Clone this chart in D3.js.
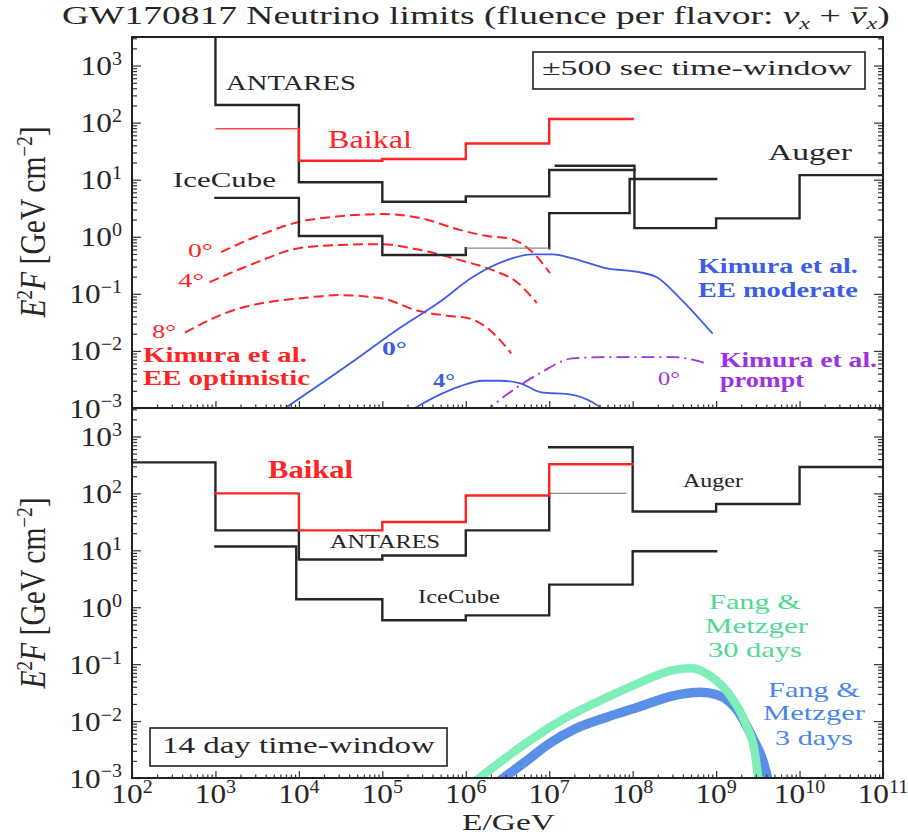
<!DOCTYPE html>
<html>
<head>
<meta charset="utf-8">
<script src="https://cdn.jsdelivr.net/npm/d3@7"></script>
<style>
  html, body { margin: 0; padding: 0; background: #fff; }
  svg { display: block; }
</style>
</head>
<body>
<svg id="chart" width="908" height="838"></svg>
<script>
// ---------------- data ----------------
// axis decades (exponents of 10)
const xTickExponents = [2, 3, 4, 5, 6, 7, 8, 9, 10, 11];
const yTickExponents = [-3, -2, -1, 0, 1, 2, 3];

// Upper panel: ±500 s window, step limits. Edges in GeV, E²F in GeV cm⁻²
const antaresShortEdges  = [1e2, 1e3, 1e4, 1e5, 1e6, 1e7, 1.05e8];
const antaresShortLimits = [4000, 204, 9.0, 4.1, 5.1, 14.8];
const icecubeShortEdges  = [1e3, 1e4, 1e5, 1e6, 1e7, 9.2e7, 1e9];
const icecubeShortLimits = [4.8, 1.03, 0.48, 0.63, 2.6, 10.3];
const augerShortEdges    = [1.2e7, 1.05e8, 1e9, 1e10, 1e11];
const augerShortLimits   = [17.6, 1.42, 2.1, 12];
const baikalShortEdges   = [1e3, 1e4, 1e5, 1e6, 1e7, 1e8];
const baikalShortLimits  = [78, 21.5, 23, 43, 116];

// Lower panel: 14 day window
const antaresLongEdges  = [1e2, 1e3, 1e4, 1e5, 1e6, 1e7, 8.4e7];
const antaresLongLimits = [350, 22.4, 6.9, 8.1, 22.4, 100];
const icecubeLongEdges  = [1e3, 9.3e3, 1e5, 1e6, 1e7, 1e8, 1e9];
const icecubeLongLimits = [11.7, 1.38, 0.59, 0.72, 2.5, 9.6];
const augerLongEdges    = [1e7, 1e8, 1e9, 1e10, 1e11];
const augerLongLimits   = [645, 48, 65, 290];
const baikalLongEdges   = [1e3, 1e4, 1e5, 1e6, 1e7, 1e8];
const baikalLongLimits  = [100, 22.4, 31.5, 92, 325];

// Kimura et al. extended emission, optimistic (E [GeV], E²F)
const kimuraOpt0 = [[1.17e3,0.54],[3.4e3,1.07],[1e4,1.82],[3.1e4,2.29],[1e5,2.5],[2.8e5,2.14],
  [8.5e5,1.32],[1.9e6,1.02],[3.1e6,0.95],[4.5e6,0.78],[6.8e6,0.48],[1.02e7,0.23]];
const kimuraOpt4 = [[850,0.16],[2.6e3,0.32],[1e4,0.63],[3.1e4,0.72],[9.3e4,0.74],[2.8e5,0.59],
  [8.5e5,0.39],[2.1e6,0.26],[4.1e6,0.16],[7.1e6,0.069]];
const kimuraOpt8 = [[430,0.021],[1.6e3,0.051],[4.1e3,0.071],[1e4,0.083],[3.1e4,0.095],[1e5,0.083],
  [2.6e5,0.051],[6.3e5,0.041],[1.1e6,0.037],[1.95e6,0.023],[3.5e6,0.0091]];
// Kimura et al. extended emission, moderate
const kimuraMod0 = [[5.5e3,0.0008],[4.1e4,0.006],[1.6e5,0.025],[4.8e5,0.071],[1.2e6,0.195],[3.1e6,0.39],
  [6.3e6,0.49],[1.1e7,0.49],[1.9e7,0.42],[4.9e7,0.28],[1.2e8,0.24],[1.95e8,0.195],[3.6e8,0.087],[9.1e8,0.020]];
const kimuraMod4 = [[1.9e5,0.0008],[4.8e5,0.0017],[8.5e5,0.0024],[1.6e6,0.0030],[2.6e6,0.0030],[4.5e6,0.0027],
  [7.8e6,0.0019],[1.9e7,0.0017],[3.3e7,0.00126],[5.2e7,0.0008]];
// Kimura et al. prompt emission
const kimuraPrompt0 = [[1.6e6,0.0008],[4.1e6,0.0023],[7.8e6,0.0041],[1.9e7,0.0074],[4.9e7,0.0078],
  [3.0e8,0.0078],[7.8e8,0.006]];

// Fang & Metzger
const fang30d = [[1.2e6,0.0008],[3.3e6,0.0025],[7.6e6,0.0059],[2.0e7,0.0138],[4.9e7,0.026],[1.2e8,0.047],
  [2.95e8,0.078],[5.1e8,0.085],[8.9e8,0.059],[1.45e9,0.029],[2.3e9,0.0085],[2.9e9,0.0029],[3.25e9,0.0008]];
const fang3d = [[2.3e6,0.0008],[5.1e6,0.0019],[1.02e7,0.0041],[2.0e7,0.0072],[4.9e7,0.0117],[1.2e8,0.0178],
  [2.95e8,0.0275],[6.5e8,0.032],[1.02e9,0.029],[1.9e9,0.0138],[2.75e9,0.005],[3.6e9,0.0021],[4.3e9,0.0008]];

// ---------------- layout ----------------
const serif = "'Liberation Serif','Times New Roman',serif";
const left = 132, right = 883, top1 = 37, mid = 408, bot2 = 778;
const svg = d3.select('#chart');
svg.append('rect').attr('width', 908).attr('height', 838).attr('fill', '#fff');

const x = d3.scaleLog().domain([1e2, 1e11]).range([left, right]);
const yTop = d3.scaleLog().domain([1e-3, Math.pow(10, 3.5)]).range([mid, top1]);
const yBot = d3.scaleLog().domain([1e-3, Math.pow(10, 3.5)]).range([bot2, mid]);

const RED = '#ff2424', BLUE = '#3d5de4', PURPLE = '#9d32df', INK = '#262626';

// text helpers
function addParts(t, parts, size) {
  let shift = 0;
  parts.forEach(([str, kind]) => {
    const ts = t.append('tspan').text(str);
    kind = kind || '';
    let target = 0;
    if (kind.includes('sup')) { ts.attr('font-size', size * 0.64); target = -size * 0.36; }
    if (kind.includes('sub')) { ts.attr('font-size', size * 0.64); target = size * 0.2; }
    if (kind.includes('i')) ts.attr('font-style', 'italic');
    if (target - shift !== 0) ts.attr('dy', target - shift);
    shift = target;
  });
}
function label(parent, o) {
  const g = parent.append('g');
  const t = g.append('text')
    .attr('font-family', serif).attr('font-size', o.size)
    .attr('font-weight', o.weight || 'normal')
    .attr('fill', o.fill || INK)
    .attr('text-anchor', o.anchor || 'start');
  addParts(t, o.parts || [[o.text]], o.size);
  const natural = t.node().getComputedTextLength();
  const sx = o.width ? o.width / natural : (o.stretch || 1);
  g.attr('transform', `translate(${o.x},${o.y}) scale(${sx},1)`);
  return { g, t };
}

// clip regions
const defs = svg.append('defs');
defs.append('clipPath').attr('id', 'clipTop').append('rect')
  .attr('x', left).attr('y', top1).attr('width', right - left).attr('height', mid - top1);
defs.append('clipPath').attr('id', 'clipBot').append('rect')
  .attr('x', left).attr('y', mid).attr('width', right - left).attr('height', bot2 - mid);

// step limit path; bins listed in `thin` get only a thin horizontal
function drawSteps(g, y, edges, vals, color, thin = [], thinColor = '#8a8a8a') {
  let d = '', dThin = '';
  vals.forEach((v, i) => {
    const x0 = x(edges[i]), x1 = x(edges[i + 1]), yv = y(v);
    if (i > 0) d += `M${x0},${y(vals[i - 1])}V${yv}`;
    if (thin.includes(i)) dThin += `M${x0},${yv}H${x1}`;
    else d += `M${x0},${yv}H${x1}`;
  });
  g.append('path').attr('d', d).attr('fill', 'none').attr('stroke', color)
    .attr('stroke-width', 2.4).attr('stroke-linecap', 'square');
  if (dThin) g.append('path').attr('d', dThin).attr('fill', 'none')
    .attr('stroke', thinColor).attr('stroke-width', 1.3);
}
function drawCurve(g, y, pts, color, width, dash) {
  const line = d3.line().x(d => x(d[0])).y(d => y(d[1])).curve(d3.curveMonotoneX);
  const p = g.append('path').datum(pts).attr('d', line).attr('fill', 'none')
    .attr('stroke', color).attr('stroke-width', width).attr('stroke-linejoin', 'round');
  if (dash) p.attr('stroke-dasharray', dash);
  return p;
}

// ---------------- upper panel ----------------
const gTop = svg.append('g').attr('clip-path', 'url(#clipTop)');
drawCurve(gTop, yTop, kimuraOpt0, RED, 2, '10,5');
drawCurve(gTop, yTop, kimuraOpt4, RED, 2, '10,5');
drawCurve(gTop, yTop, kimuraOpt8, RED, 2, '10,5');
drawCurve(gTop, yTop, kimuraMod0, BLUE, 1.8);
drawCurve(gTop, yTop, kimuraMod4, BLUE, 1.8);
drawCurve(gTop, yTop, kimuraPrompt0, PURPLE, 1.8, '13,5,2,5');
drawSteps(gTop, yTop, icecubeShortEdges, icecubeShortLimits, INK, [3]);
drawSteps(gTop, yTop, antaresShortEdges, antaresShortLimits, INK);
drawSteps(gTop, yTop, augerShortEdges, augerShortLimits, INK);
drawSteps(gTop, yTop, baikalShortEdges, baikalShortLimits, RED, [0], '#ff4848');

// ---------------- lower panel ----------------
const gBot = svg.append('g').attr('clip-path', 'url(#clipBot)');
drawSteps(gBot, yBot, antaresLongEdges, antaresLongLimits, INK, [5]);
drawSteps(gBot, yBot, icecubeLongEdges, icecubeLongLimits, INK);
drawSteps(gBot, yBot, augerLongEdges, augerLongLimits, INK);
drawSteps(gBot, yBot, baikalLongEdges, baikalLongLimits, RED);
drawCurve(gBot, yBot, fang3d, '#5a8fe8', 9.5).attr('stroke-linecap', 'butt');
drawCurve(gBot, yBot, fang30d, '#7eefb9', 8.5).attr('stroke-linecap', 'butt');

// ---------------- axes ----------------
const minorX = [], majorX = xTickExponents.map(e => Math.pow(10, e));
for (let e = 2; e < 11; e++) for (let m = 2; m <= 9; m++) minorX.push(m * Math.pow(10, e));
const minorY = [], majorY = yTickExponents.map(e => Math.pow(10, e));
for (let e = -3; e < 4; e++) for (let m = 2; m <= 9; m++) {
  const v = m * Math.pow(10, e);
  if (v <= Math.pow(10, 3.5)) minorY.push(v);
}
function styleAxis(sel) {
  sel.select('.domain').remove();
  sel.selectAll('.tick line').attr('stroke', '#333').attr('stroke-width', 1.2);
  sel.selectAll('.tick text').remove();
}
[[yTop, mid], [yBot, bot2]].forEach(([y, yb]) => {
  svg.append('g').attr('transform', `translate(0,${yb})`)
    .call(d3.axisBottom(x).tickValues(minorX).tickSize(-3.5)).call(styleAxis);
  svg.append('g').attr('transform', `translate(0,${yb})`)
    .call(d3.axisBottom(x).tickValues(majorX).tickSize(-7)).call(styleAxis);
  svg.append('g').attr('transform', `translate(${left},0)`)
    .call(d3.axisLeft(y).tickValues(minorY).tickSize(-5)).call(styleAxis);
  svg.append('g').attr('transform', `translate(${left},0)`)
    .call(d3.axisLeft(y).tickValues(majorY).tickSize(-9)).call(styleAxis);
  svg.append('g').attr('transform', `translate(${right},0)`)
    .call(d3.axisRight(y).tickValues(minorY).tickSize(-5)).call(styleAxis);
  svg.append('g').attr('transform', `translate(${right},0)`)
    .call(d3.axisRight(y).tickValues(majorY).tickSize(-9)).call(styleAxis);
});

// frames
svg.append('rect').attr('x', left).attr('y', top1).attr('width', right - left).attr('height', mid - top1)
  .attr('fill', 'none').attr('stroke', '#222').attr('stroke-width', 2);
svg.append('rect').attr('x', left).attr('y', mid).attr('width', right - left).attr('height', bot2 - mid)
  .attr('fill', 'none').attr('stroke', '#222').attr('stroke-width', 2);

// tick labels
const expText = e => (e < 0 ? '\u2212' + (-e) : String(e));
[yTop, yBot].forEach(y => {
  yTickExponents.forEach(e => {
    label(svg, { x: 122, y: y(Math.pow(10, e)) + 9.5, size: 28, anchor: 'end', stretch: 1.12,
      parts: [['10'], [expText(e), 'sup']] });
  });
});
xTickExponents.forEach(e => {
  label(svg, { x: x(Math.pow(10, e)), y: 803, size: 28, anchor: 'middle', stretch: 1.12,
    parts: [['10'], [expText(e), 'sup']] });
});
label(svg, { x: 462, y: 830, size: 24, width: 93, text: 'E/GeV' });

// y axis titles (rotated)
[222, 593].forEach(cy => {
  const g = svg.append('g').attr('transform', `translate(45,${cy}) scale(1.22,1) rotate(-90)`);
  const inner = g.append('g');
  const t = inner.append('text').attr('font-family', serif).attr('font-size', 29)
    .attr('text-anchor', 'middle').attr('fill', INK);
  addParts(t, [['E', 'i'], ['2', 'sup'], ['F', 'i'], [' [GeV\u2009cm'], ['\u22122', 'sup'], [']']], 29);
  inner.attr('transform', `scale(${191 / t.node().getComputedTextLength()},1)`);
});

// title; the antineutrino bar is drawn over the second nu
const titleParts = [['GW170817 Neutrino limits (fluence per flavor: '], ['\u03BD', 'i'], ['x', 'isub'],
                    [' + '], ['\u03BD', 'i'], ['x', 'isub'], [')']];
const title = label(svg, { x: 62, y: 24, size: 26, width: 828, parts: titleParts });
{
  const barIndex = titleParts.slice(0, 4).reduce((n, p) => n + p[0].length, 0);
  const ext = title.t.node().getExtentOfChar(barIndex);
  title.g.append('line')
    .attr('x1', ext.x + ext.width * 0.25).attr('x2', ext.x + ext.width * 1.05)
    .attr('y1', -16).attr('y2', -16)
    .attr('stroke', INK).attr('stroke-width', 1.4);
}

// ---------------- annotations, upper panel ----------------
svg.append('rect').attr('x', 533).attr('y', 52).attr('width', 332).attr('height', 37)
  .attr('fill', '#fff').attr('stroke', '#222').attr('stroke-width', 1.6);
label(svg, { x: 542, y: 75, size: 21, width: 310, text: '\u00B1500 sec time-window' });

label(svg, { x: 226, y: 90, size: 21, width: 130, text: 'ANTARES' });
label(svg, { x: 328, y: 148, size: 25, width: 84, text: 'Baikal', fill: RED });
label(svg, { x: 173, y: 187, size: 20, width: 103, text: 'IceCube' });
label(svg, { x: 768, y: 160, size: 23, width: 84, text: 'Auger' });

label(svg, { x: 188, y: 257, size: 19, width: 25, text: '0\u00B0', fill: RED });
label(svg, { x: 178, y: 287, size: 19, width: 26, text: '4\u00B0', fill: RED });
label(svg, { x: 152, y: 338, size: 19, width: 24, text: '8\u00B0', fill: RED });
label(svg, { x: 143, y: 362, size: 20, width: 164, text: 'Kimura et al.', fill: RED, weight: 'bold' });
label(svg, { x: 143, y: 385, size: 20, width: 167, text: 'EE optimistic', fill: RED, weight: 'bold' });

label(svg, { x: 382, y: 355, size: 19, width: 25, text: '0\u00B0', fill: BLUE, weight: 'bold' });
label(svg, { x: 433, y: 387, size: 19, width: 22, text: '4\u00B0', fill: BLUE, weight: 'bold' });
label(svg, { x: 698, y: 273, size: 20, width: 160, text: 'Kimura et al.', fill: BLUE, weight: 'bold' });
label(svg, { x: 698, y: 297, size: 20, width: 160, text: 'EE moderate', fill: BLUE, weight: 'bold' });

label(svg, { x: 658, y: 385, size: 19, width: 22, text: '0\u00B0', fill: PURPLE });
label(svg, { x: 720, y: 367, size: 20, width: 157, text: 'Kimura et al.', fill: PURPLE, weight: 'bold' });
label(svg, { x: 720, y: 387, size: 20, width: 84, text: 'prompt', fill: PURPLE, weight: 'bold' });

// ---------------- annotations, lower panel ----------------
label(svg, { x: 268, y: 478, size: 25, width: 85, text: 'Baikal', fill: RED, weight: 'bold' });
label(svg, { x: 330, y: 548, size: 18, width: 110, text: 'ANTARES' });
label(svg, { x: 418, y: 603, size: 18, width: 82, text: 'IceCube' });
label(svg, { x: 683, y: 487, size: 18, width: 60, text: 'Auger' });

svg.append('rect').attr('x', 150).attr('y', 728).attr('width', 297).attr('height', 38)
  .attr('fill', '#fff').attr('stroke', '#222').attr('stroke-width', 1.6);
label(svg, { x: 162, y: 753, size: 23, width: 273, text: '14 day time-window' });

const GREEN_TXT = '#4fd993', BLUE_TXT = '#4a86ea';
label(svg, { x: 709, y: 609, size: 21, width: 92, text: 'Fang &', fill: GREEN_TXT });
label(svg, { x: 705, y: 633, size: 21, width: 103, text: 'Metzger', fill: GREEN_TXT });
label(svg, { x: 708, y: 657, size: 21, width: 94, text: '30 days', fill: GREEN_TXT });
label(svg, { x: 768, y: 697, size: 21, width: 92, text: 'Fang &', fill: BLUE_TXT });
label(svg, { x: 763, y: 720, size: 21, width: 102, text: 'Metzger', fill: BLUE_TXT });
label(svg, { x: 775, y: 745, size: 21, width: 78, text: '3 days', fill: BLUE_TXT });
</script>
</body>
</html>
